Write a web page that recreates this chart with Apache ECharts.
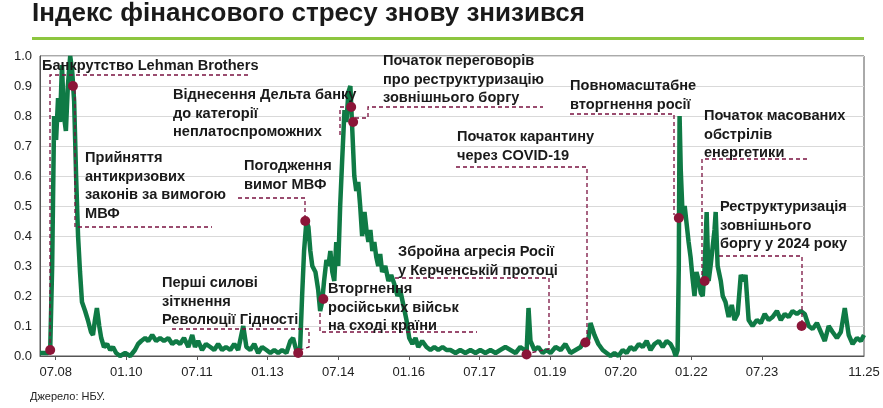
<!DOCTYPE html>
<html><head><meta charset="utf-8">
<script src="https://cdn.jsdelivr.net/npm/echarts@6/dist/echarts.min.js"></script>
<style>html,body{margin:0;padding:0;background:#fff}#c{width:883px;height:408px}</style>
</head><body><div id="c"></div>
<script>
// x = months since 2008-03
const months = [0,1.3,2,2.6,3.1,3.6,4.1,4.6,5.1,5.6,6.1,6.6,7.1,7.7,8.2,8.7,9.2,9.7,10.2,10.7,11.5,12.2,13,13.5,14,14.5,15.1,15.6,16.3,17.1,17.9,18.6,19.4,20.4,21.7,23,24.2,25,25.8,26.8,27.6,28.6,29.6,30.6,31.6,32.7,33.7,34.7,35.7,36.7,37.8,38.8,39.5,40.3,41.3,42.3,43.4,44.4,45.4,46.4,47.4,48.5,49.5,50.5,51.8,52.6,53.6,54.6,55.6,56.6,57.7,58.7,59.7,60.7,61.7,62.8,63.8,64.5,65.3,65.8,66.3,66.8,67.3,67.9,68.4,68.9,69.4,70.2,70.9,71.4,71.9,72.4,73,73.5,74,74.5,75,75.5,76,76.5,77,77.6,78.1,78.6,79.1,79.6,80.1,80.6,81.1,81.6,82.1,82.7,83.2,83.7,84.2,84.7,85.2,85.7,86.2,86.7,87.2,88,88.8,89.5,90.3,91.1,91.8,92.6,93.4,94.1,94.9,95.7,96.4,97.4,98.5,99.5,100.5,101.5,102.6,103.6,104.6,105.9,107.1,108.4,109.7,111,112.2,113.5,114.8,116.1,117.3,118.6,119.9,121.2,122.4,123.5,124,124.5,125,126,127,128.1,129.1,130.1,131.4,132.7,133.9,135.2,136.5,137.8,138.5,139.3,139.8,140.3,141.3,142.3,143.4,144.4,145.4,146.4,147.4,148.5,149.5,150.5,151.5,152.6,153.6,154.6,155.6,156.6,157.7,158.7,159.7,160.7,161.5,162,162.5,162.8,163,163.3,163.8,164.3,164.8,165.3,165.8,166.3,166.8,167.3,167.9,168.4,168.9,169.4,169.9,170.4,170.9,171.4,171.9,172.2,172.7,173.5,174,174.7,175.5,176.3,177,177.8,178.6,179.3,179.8,180.6,181.6,182.7,183.7,184.7,185.7,186.7,187.8,188.8,189.8,190.8,191.8,192.9,193.9,194.9,195.9,196.9,198,199,200,201,202,203.1,204.1,205.1,206.1,207.1,208.2,209.2,210];
const values = [0.01,0.01,0.01,0.02,0.3,0.8,0.72,0.86,0.78,0.97,0.8,0.75,0.9,1.0,0.95,0.85,0.6,0.4,0.28,0.18,0.15,0.12,0.08,0.07,0.12,0.16,0.1,0.06,0.03,0.04,0.02,0.03,0.01,0.0,0.01,0.0,0.02,0.04,0.05,0.06,0.05,0.07,0.05,0.06,0.05,0.06,0.04,0.05,0.04,0.06,0.03,0.07,0.03,0.05,0.02,0.04,0.03,0.02,0.04,0.02,0.03,0.02,0.04,0.02,0.1,0.03,0.02,0.04,0.01,0.03,0.02,0.01,0.02,0.01,0.02,0.01,0.05,0.06,0.02,0.01,0.03,0.2,0.35,0.45,0.43,0.35,0.3,0.28,0.22,0.15,0.18,0.25,0.32,0.3,0.35,0.28,0.25,0.38,0.3,0.5,0.65,0.82,0.78,0.88,0.9,0.75,0.6,0.55,0.58,0.5,0.4,0.48,0.42,0.38,0.42,0.35,0.38,0.33,0.3,0.34,0.28,0.3,0.25,0.27,0.24,0.2,0.22,0.17,0.12,0.06,0.04,0.06,0.03,0.05,0.03,0.02,0.03,0.02,0.03,0.02,0.02,0.01,0.02,0.01,0.02,0.01,0.02,0.01,0.02,0.01,0.02,0.03,0.02,0.01,0.03,0.02,0.01,0.16,0.05,0.02,0.03,0.01,0.02,0.01,0.03,0.02,0.04,0.01,0.02,0.03,0.05,0.04,0.06,0.11,0.07,0.04,0.02,0.01,0.0,0.01,0.0,0.02,0.01,0.03,0.02,0.04,0.03,0.05,0.02,0.04,0.05,0.03,0.05,0.04,0.02,0.0,0.02,0.3,0.8,0.62,0.46,0.5,0.44,0.38,0.33,0.26,0.2,0.28,0.25,0.21,0.2,0.3,0.48,0.25,0.3,0.36,0.42,0.48,0.3,0.25,0.2,0.18,0.13,0.17,0.12,0.14,0.27,0.25,0.27,0.12,0.1,0.12,0.11,0.14,0.12,0.13,0.15,0.12,0.14,0.13,0.15,0.14,0.15,0.14,0.1,0.09,0.11,0.08,0.05,0.1,0.08,0.06,0.08,0.16,0.07,0.04,0.06,0.05,0.07,0.06,0.07];
const eventMonths = [2.6,8.4,65.8,67.6,72.2,79.3,79.8,124,139,162.8,169.4,194.1];
const eventValues = [0.02,0.9,0.01,0.45,0.19,0.83,0.78,0.005,0.045,0.46,0.25,0.1];
const tickMonths = [4,22,40,58,76,94,112,130,148,166,184,210];
const tickLabels = ['07.08','01.10','07.11','01.13','07.14','01.16','07.17','01.19','07.20','01.22','07.23','11.25'];

const F = '"Liberation Sans", Arial, sans-serif';
const dash = '#7a1240';
const notes = [
  {x:42,y:57,t:'Банкрутство Lehman Brothers', p:[[50,350],[50,75],[250,75]]},
  {x:85,y:149,t:'Прийняття\nантикризових\nзаконів за вимогою\nМВФ', p:[[75,90],[75,227],[212,227]]},
  {x:173,y:86,t:'Віднесення Дельта банку\nдо категорії\nнеплатоспроможних', p:[[340,135],[340,107],[349,107]]},
  {x:383,y:52,t:'Початок переговорів\nпро реструктуризацію\nзовнішнього боргу', p:[[355,118],[368,118],[368,107],[543,107]]},
  {x:244,y:157,t:'Погодження\nвимог МВФ', p:[[238,198],[305,198],[305,220]]},
  {x:162,y:274,t:'Перші силові\nзіткнення\nРеволюції Гідності', p:[[172,329],[309,329],[309,347],[300,350]]},
  {x:328,y:280,t:'Вторгнення\nросійських військ\nна сході країни', p:[[320,313],[320,332],[477,332]]},
  {x:398,y:243,t:'Збройна агресія Росії\nу Керченській протоці', p:[[395,278],[549,278],[549,349],[530,353]]},
  {x:457,y:128,t:'Початок карантину\nчерез COVID-19', p:[[456,167],[587,167],[587,341]]},
  {x:570,y:77,t:'Повномасштабне\nвторгнення росії', p:[[570,114],[674,114],[674,215]]},
  {x:704,y:107,t:'Початок масованих\nобстрілів\nенергетики', p:[[807,159],[702,159],[702,278]]},
  {x:720,y:198,t:'Реструктуризація\nзовнішнього\nборгу у 2024 року', p:[[719,256],[802,256],[802,325]]}
];
const graphic = [
  {type:'text',left:32,top:1,style:{text:'Індекс фінансового стресу знову знизився',font:'bold 26px '+F,fill:'#1a1a1a'}},
  {type:'rect',shape:{x:32,y:37,width:832,height:3},style:{fill:'#8dc63f'}},
  {type:'text',left:30,top:391,style:{text:'Джерело: НБУ.',font:'11px '+F,fill:'#222'}}
];
notes.forEach(n=>{
  graphic.push({type:'polyline',z:50,shape:{points:n.p},style:{stroke:dash,lineWidth:1.3,lineDash:[4,3],fill:null}});
  graphic.push({type:'text',z:60,x:n.x,y:n.y,style:{text:n.t,font:'bold 14.6px '+F,fill:'#1a1a1a',lineHeight:18.5}});
});
const chart = echarts.init(document.getElementById('c'));
chart.setOption({
  animation:false,
  grid:{left:40,right:19,top:56,bottom:52,show:true,borderColor:'#555',borderWidth:1},
  xAxis:{type:'value',min:0,max:210,
    axisLine:{show:true,lineStyle:{color:'#555'}},
    splitLine:{show:false},
    axisTick:{show:true,customValues:tickMonths.slice(0,11),length:4,lineStyle:{color:'#555'}},
    axisLabel:{customValues:tickMonths,fontSize:13,fontFamily:F,color:'#222',margin:10,
      formatter:v=>tickLabels[tickMonths.indexOf(v)]||''}},
  yAxis:{type:'value',min:0,max:1,interval:0.1,
    axisLine:{show:true,lineStyle:{color:'#555'}},
    axisTick:{show:false},
    splitLine:{lineStyle:{color:'#d9d9d9'}},
    axisLabel:{fontSize:13,fontFamily:F,color:'#222',formatter:v=>v.toFixed(1),margin:8}},
  series:[
    {type:'line',data:months.map((m,i)=>[m,values[i]]),symbol:'none',
     lineStyle:{color:'#0f7a45',width:4.5},z:3},
    {type:'scatter',data:eventMonths.map((m,i)=>[m,eventValues[i]]),symbolSize:10,
     itemStyle:{color:'#8b1538',opacity:1},z:70}
  ],
  graphic
});
</script></body></html>
